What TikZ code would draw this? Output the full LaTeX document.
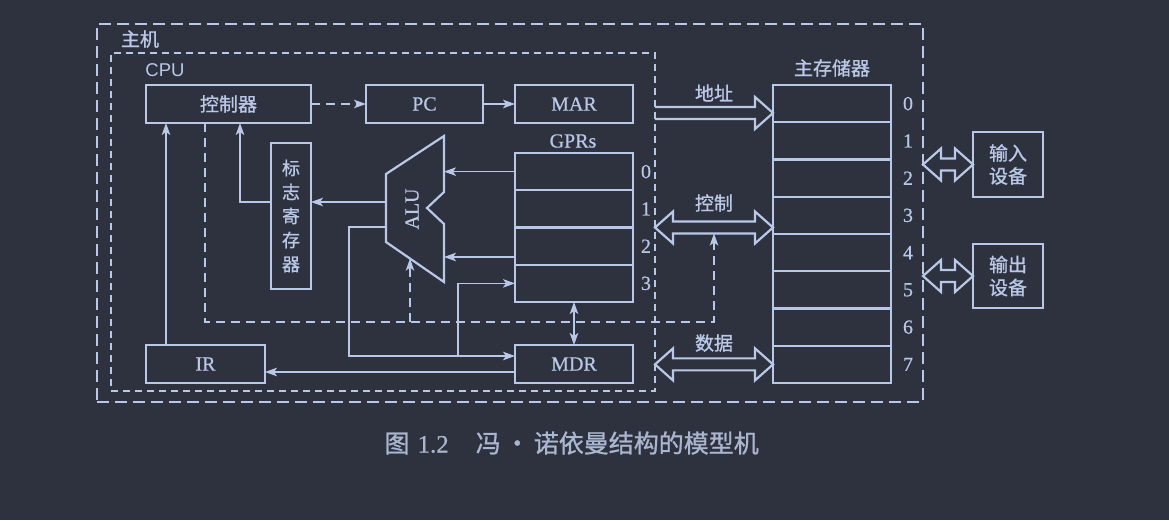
\documentclass[tikz,border=0pt]{standalone}
\usepackage{fontspec}
\setmainfont[FakeBold=0.5]{Liberation Serif}
\setsansfont{Liberation Sans}
\newfontfamily\cjk[FakeBold=1]{Noto Sans CJK SC}
\usetikzlibrary{calc}
\usetikzlibrary{arrows.meta}
\definecolor{bg}{RGB}{46,50,62}
\definecolor{ink}{RGB}{186,200,232}
\definecolor{capink}{RGB}{170,181,208}
\tikzset{
	box/.style={
		draw=ink,
		rectangle,
		inner sep=0pt,
		outer sep=0pt,
		line width=2.2pt,
		text=ink,
	},
	cell/.style={
		box,
		minimum width=118pt,
		minimum height=37.25pt,
	},
	frame/.style={
		draw=ink,
		rectangle,
		inner sep=0pt,
		outer sep=0pt,
		line width=1.8pt,
		dash pattern=on 12pt off 6pt,
	},
	cjklbl/.style={text=ink, font=\cjk\fontsize{19}{23}\selectfont},
	latin/.style={text=ink, font=\fontsize{20}{22}\selectfont},
	sig/.style={
		draw=ink,
		line width=1.6pt,
		-{Stealth[length=12pt,width=8.5pt,inset=3pt]}
	},
	ctl/.style={sig, dash pattern=on 9pt off 6pt},
	both/.style={
		sig,
		{Stealth[length=12pt,width=8.5pt,inset=3pt]}-{Stealth[length=12pt,width=8.5pt,inset=3pt]}
	},
	bus/.style={draw=ink, line width=2.2pt, line join=miter},
}
% hollow bus arrows
\newcommand{\onewaybus}[2]{%
	\draw[bus] ($(#1)+(0,-6)$) -- ($(#2)+(-18,-6)$) -- ++(0,-10) -- (#2)
		-- ++(-18,16) -- ++(0,-10) -- ($(#1)+(0,6)$);
}
\newcommand{\twowaybus}[2]{%
	\draw[bus] (#1) -- ++(18,-16) -- ++(0,10) -- ($(#2)+(-18,-6)$) -- ++(0,-10) -- (#2)
		-- ++(-18,16) -- ++(0,-10) -- ($(#1)+(18,6)$) -- ++(0,10) -- cycle;
}

\begin{document}
\begin{tikzpicture}[x=1pt,y=-1pt,color=ink]
	\fill[bg] (0,0) rectangle (1169,520);

	\node[frame,minimum width=826pt,minimum height=378pt] (host) at (510,213) {};
	\node[frame,dash pattern=on 7pt off 5pt,minimum width=544pt,minimum height=338pt] (cpu) at (383,222) {};
	\node[cjklbl] (hostlbl) at (140,39) {主机};
	\node[text=ink,font=\sffamily\fontsize{18.5}{20}\selectfont] (cpulbl) at (165,70) {CPU};

	% CPU parts
	\node[box,cjklbl,minimum width=165pt,minimum height=38pt] (ctrl) at (228.5,104) {控制器};
	\node[box,latin,minimum width=117pt,minimum height=38pt] (pc) at (424.5,104) {PC};
	\node[box,latin,minimum width=118pt,minimum height=38pt] (mar) at (574,104) {MAR};
	\node[box,align=center,minimum width=40pt,minimum height=146pt,
		font=\cjk\fontsize{18}{24}\selectfont] (flag) at (291,216) {标\\志\\寄\\存\\器};
	\node[box,latin,minimum width=119pt,minimum height=38pt] (ir) at (205.5,364) {IR};
	\node[box,latin,minimum width=118pt,minimum height=38pt] (mdr) at (574,364) {MDR};

	\node[latin] (gprlbl) at (573,141) {GPRs};
	\foreach \i in {0,...,3}{
		\node[cell] (gpr\i) at (574,{171.625+37.25*\i}) {};
		\node[latin] (gprno\i) at (646,{171.625+37.25*\i}) {\i};
	}

	% ALU
	\draw[bus] (386,174) -- (444,136) -- (444,192) -- (427,208) -- (444,224)
		-- (444,282) -- (386,242) -- cycle;
	\node[latin,rotate=90] (alu) at (412,209) {ALU};
	\coordinate (aluIn0) at (444,171.625);
	\coordinate (aluIn1) at (444,257);
	\coordinate (aluFlag) at (386,202);
	\coordinate (aluOut) at (386,227);
	\coordinate (aluCtl) at (410,258.6);

	% memory and devices
	\node[cjklbl] (memlbl) at (832,68) {主存储器};
	\foreach \i in {0,...,7}{
		\node[cell] (mem\i) at (832,{103.625+37.25*\i}) {};
		\node[latin] (memno\i) at (908,{103.625+37.25*\i}) {\i};
	}
	\node[box,cjklbl,align=center,minimum width=70pt,minimum height=65pt] (indev) at (1008,164.5) {输入\\设备};
	\node[box,cjklbl,align=center,minimum width=70pt,minimum height=64pt] (outdev) at (1008,276) {输出\\设备};

	% signals
	\draw[ctl] (ctrl.east) -- (pc.west);
	\draw[sig] (pc) -- (mar);
	\draw[sig] ([xshift=20pt]ir.north west) -- ([xshift=20pt]ctrl.south west);
	\draw[sig] (gpr0.west) -- (aluIn0);
	\draw[sig] (gpr2.west |- aluIn1) -- (aluIn1);
	\draw[sig] (aluFlag) -- (flag.east |- aluFlag);
	\draw[sig] (flag.west |- aluFlag) -| ([xshift=94pt]ctrl.south west);
	\coordinate (dnode) at (349,356);
	\coordinate (split) at (458,356);
	\draw[sig] (aluOut) -| (dnode) -- (mdr.west |- dnode);
	\draw[sig] (split) |- (gpr3.west);
	\draw[both] (gpr3.south) -- (mdr.north);
	\draw[sig] ([yshift=-8pt]mdr.west) -- ([yshift=-8pt]ir.east);

	\coordinate (rail) at (714,322);
	\coordinate (busCtl) at (714,233.5);
	\draw[ctl] ([xshift=59pt]ctrl.south west) |- (rail) -- (busCtl);
	\draw[ctl] (aluCtl |- rail) -- (aluCtl);

	% buses
	\coordinate (addrL) at (cpu.east |- 0,113);
	\coordinate (addrR) at (mem0.west |- 0,113);
	\onewaybus{addrL}{addrR}
	\coordinate (ctlL) at (cpu.east |- 0,227.5);
	\coordinate (ctlR) at (mem3.west |- 0,227.5);
	\twowaybus{ctlL}{ctlR}
	\coordinate (datL) at (cpu.east |- mem7.west);
	\twowaybus{datL}{mem7.west}
	\coordinate (inL) at (host.east |- indev.west);
	\twowaybus{inL}{indev.west}
	\coordinate (outL) at (host.east |- outdev.west);
	\twowaybus{outL}{outdev.west}
	\node[cjklbl] (addrlbl) at (714,93) {地址};
	\node[cjklbl] (ctllbl) at (714,203) {控制};
	\node[cjklbl] (datlbl) at (714,343) {数据};

	\node[anchor=west,text=capink,font=\fontsize{25}{27}\selectfont] (caption) at (381,443)
		{{\cjk 图}\hspace{8pt}1.2\hspace{27pt}{\cjk 冯\hspace{4pt}・\hspace{4pt}诺依曼结构的模型机}};
\end{tikzpicture}
\end{document}
